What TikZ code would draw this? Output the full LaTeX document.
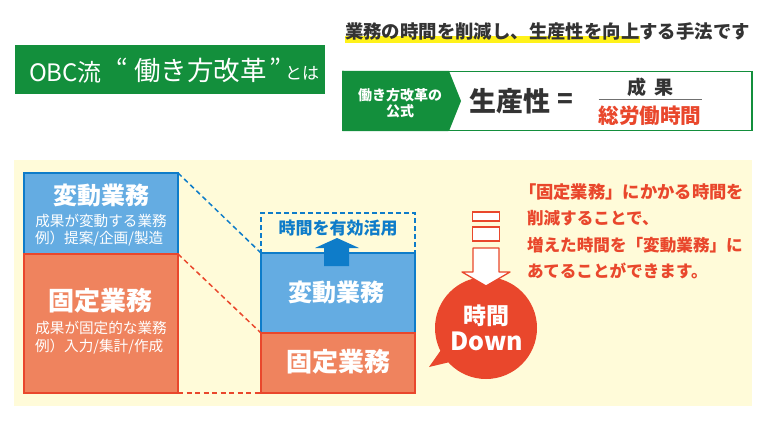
\documentclass[tikz,border=0pt]{standalone}
\usepackage{fontspec}
\setmainfont{Noto Sans CJK JP}
\usetikzlibrary{arrows.meta}
\definecolor{obcgreen}{HTML}{138F3C}
\definecolor{panel}{HTML}{FFFBD9}
\definecolor{bluefill}{HTML}{64ACE2}
\definecolor{blueline}{HTML}{0E7CC9}
\definecolor{orangefill}{HTML}{EF835E}
\definecolor{redline}{HTML}{E9472C}
\definecolor{darktext}{HTML}{333333}
\definecolor{hilite}{HTML}{FFF21A}
\tikzset{
  x=1pt,y=-1pt,
  txt/.style={inner sep=0pt,outer sep=0pt,align=center},
  sz/.style={font=\fontsize{#1}{#1}\selectfont},
  bz/.style={font=\bfseries\fontsize{#1}{#1}\selectfont},
  bluebox/.style={draw=blueline,fill=bluefill,line width=1.3pt,inner sep=0pt,outer sep=0pt},
  orangebox/.style={draw=redline,fill=orangefill,line width=1.3pt,inner sep=0pt,outer sep=0pt},
  link/.style={dash pattern=on 5pt off 3.5pt,line width=1.5pt},
  hollow/.style={draw=redline,fill=white,line width=1.3pt,inner sep=0pt,outer sep=0pt,minimum width=27pt},
  note/.style={txt,redline,anchor=west,bz=16.6},
}
\begin{document}
\begin{tikzpicture}
\useasboundingbox (0,0) rectangle (775,438);
% title banner
\node[fill=obcgreen,inner sep=0pt,minimum width=310pt,minimum height=49pt] (banner) at (170,70) {};
\node[txt,white,sz=24,anchor=west] (t1) at (29,72) {OBC流};
\node[txt,white,sz=25,anchor=west] (t2) at (116,68) {“};
\node[txt,white,sz=26.5,anchor=west] (t3) at (134,70) {働き方改革};
\node[txt,white,sz=25,anchor=west] (t4) at (269,68) {”};
\node[txt,white,sz=17,anchor=west] (t5) at (285,73) {とは};
% headline
\fill[hilite] (345,36) rectangle (640,43);
\node[txt,darktext,anchor=west,bz=18.4] (head) at (345,31) {業務の時間を削減し、生産性を向上する手法です};
% formula
\node[draw=obcgreen,fill=white,line width=1.5pt,inner sep=0pt,minimum width=409pt,minimum height=59pt] (formula) at (547.5,101) {};
\fill[obcgreen] (formula.north west) -- (449,71) -- (461,101) -- (449,131) -- (formula.south west) -- cycle;
\node[txt,white,bz=14] (kosiki) at (400,103) {働き方改革の\\[2pt]公式};
\node[txt,darktext,bz=27] (seisan) at (510,101) {生産性};
\node[txt,darktext,bz=26] (eq) at (565,101) {=};
\node[txt,darktext,bz=19] (seika) at (650,87) {成\hspace{8pt}果};
\node[txt,redline,bz=20.6] (souro) at (650,116) {総労働時間};
\draw[darktext!70,line width=1.4pt] (seika.south -| souro.west) ++(0,3) coordinate (la) -- (la -| souro.east);
% panel
\node[fill=panel,inner sep=0pt,minimum width=738pt,minimum height=246pt] (bg) at (383,283) {};
% left stack
\node[bluebox,minimum width=154pt,minimum height=81pt] (lv) at (101,213.5) {};
\node[orangebox,minimum width=154pt,minimum height=139pt] (lf) at (101,323.5) {};
\node[txt,white,bz=24] (lvt) at (101,195) {変動業務};
\node[txt,white,sz=14.6] (lvs) at (101,221) {成果が変動する業務};
\node[txt,white,sz=14.6,anchor=west] (lve) at (35,239) {例）提案/企画/製造};
\node[txt,white,bz=26] (lft) at (100,301) {固定業務};
\node[txt,white,sz=14.6] (lfs) at (101,328) {成果が固定的な業務};
\node[txt,white,sz=14.6,anchor=west] (lfe) at (35,347) {例）入力/集計/作成};
% right stack
\node[draw=blueline,line width=1.3pt,dash pattern=on 5pt off 3pt,inner sep=0pt,outer sep=0pt,minimum width=154pt,minimum height=40pt] (rd) at (338,233) {};
\node[bluebox,minimum width=154pt,minimum height=80pt] (rv) at (338,293) {};
\node[orangebox,minimum width=154pt,minimum height=60pt] (rf) at (338,363) {};
\node[txt,blueline,bz=17] (yuko) at (338,228) {時間を有効活用};
\node[txt,white,bz=24] (rvt) at (336,292) {変動業務};
\node[txt,white,bz=26] (rft) at (338,362) {固定業務};
\fill[blueline] (337,238) -- (359,248) -- (349,248) -- (349,266) -- (324,266) -- (324,248) -- (315,248) -- cycle;
% connectors
\draw[link,blueline] (lv.north east) -- (rv.north west);
\draw[link,redline] (lf.north east) -- (rf.north west);
\draw[link,redline] (lf.south east) -- (rf.south west);
% down callout
\node[fill=redline,circle,inner sep=0pt,outer sep=0pt,minimum size=102pt] (down) at (486,328) {};
\coordinate (tail) at (429,367);
\fill[redline] (tail) -- (441,350) -- (450,362) -- cycle;
\node[hollow,minimum height=9pt] (r1) at (486,216.5) {};
\node[hollow,minimum height=14pt] (r2) at (486,234) {};
\draw[redline,fill=white,line width=1.3pt,line join=round] (473,248) -- (499,248) -- (499,272) -- (510,272) -- (486,286) -- (462,272) -- (473,272) -- cycle;
\node[txt,white,bz=23] (ji) at (486,316) {時間};
\node[txt,white,bz=25] (dn) at (487,341) {Down};
% explanation
\node[note,bz=17.3] (e1) at (519,192) {「固定業務」にかかる時間を};
\node[note] (e2) at (527,218) {削減することで、};
\node[note] (e3) at (527,245) {増えた時間を「変動業務」に};
\node[note] (e4) at (527,271) {あてることができます。};
\end{tikzpicture}
\end{document}
